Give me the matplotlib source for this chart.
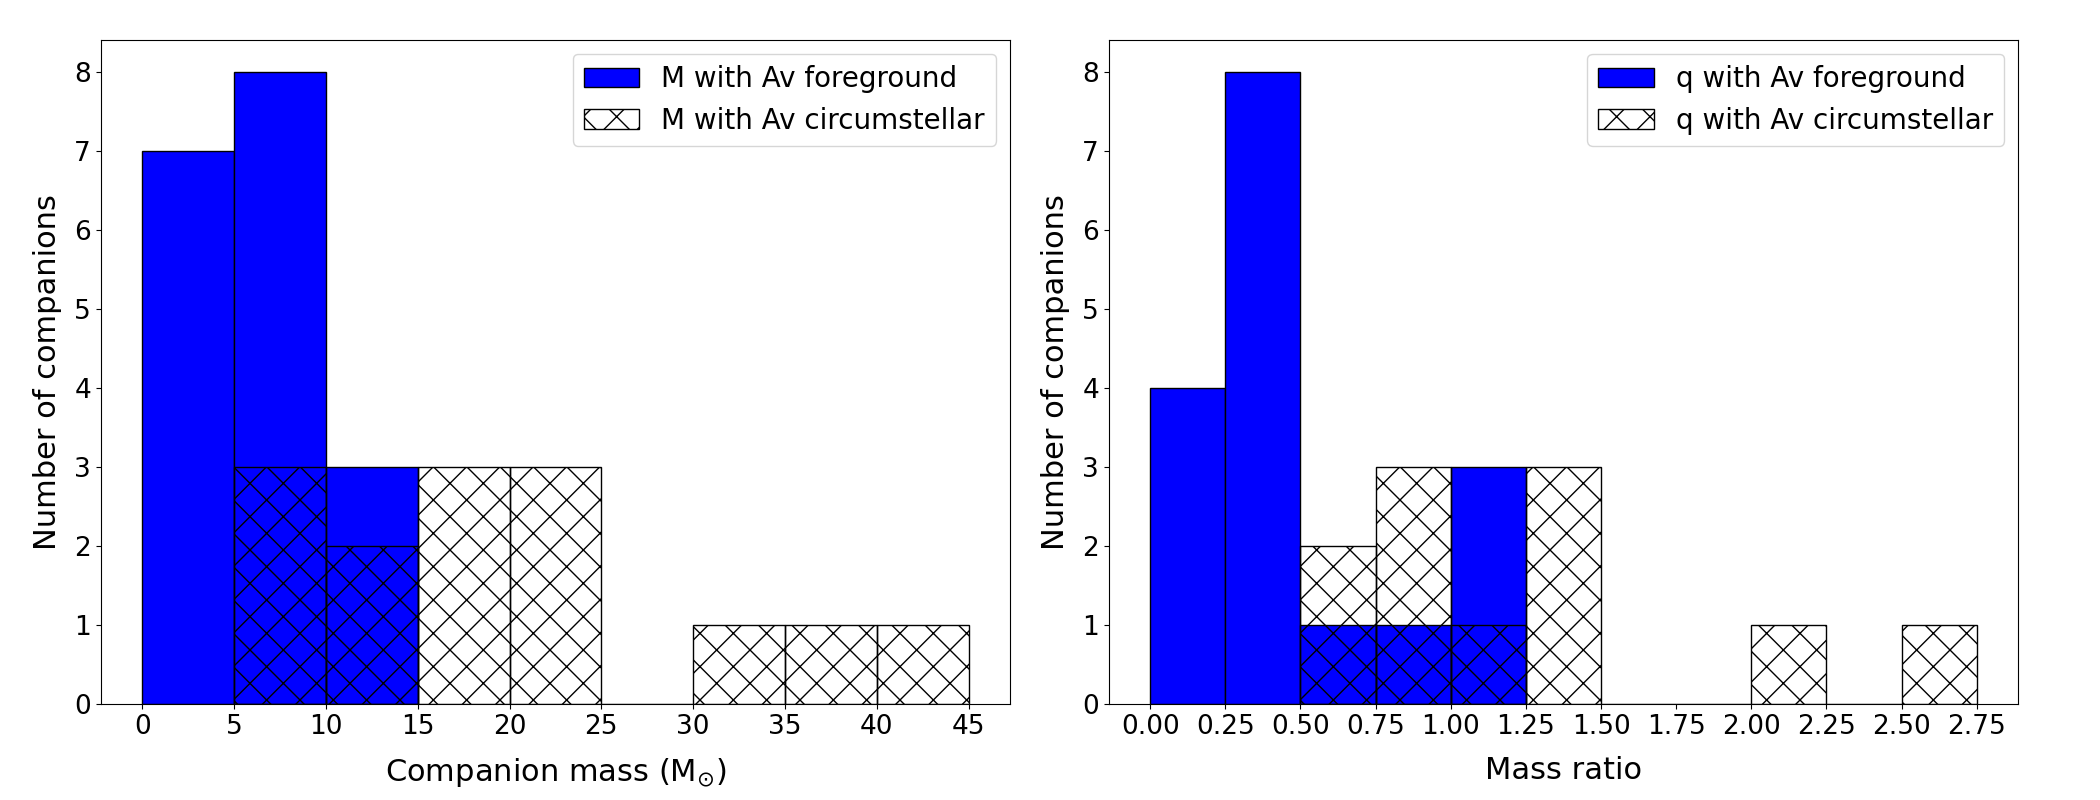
import matplotlib
matplotlib.use("Agg")
import matplotlib.pyplot as plt
import numpy as np

plt.rcParams['font.family'] = ['DejaVu Sans']

# companion mass histograms (M_sun)
mass_fg_edges = [0, 5, 10, 15]
mass_fg_counts = [7, 8, 3]
mass_cs_edges = [5, 10, 15, 20, 25, 30, 35, 40, 45]
mass_cs_counts = [3, 2, 3, 3, 0, 1, 1, 1]

# mass ratio histograms
q_fg_edges = [0.0, 0.25, 0.5, 0.75, 1.0, 1.25]
q_fg_counts = [4, 8, 1, 1, 3]
q_cs_edges = [0.5, 0.75, 1.0, 1.25, 1.5, 1.75, 2.0, 2.25, 2.5, 2.75]
q_cs_counts = [2, 3, 1, 3, 0, 0, 1, 0, 1]

fig = plt.figure(figsize=(21, 8), dpi=100)
ax1 = fig.add_axes([0.048, 0.12, 0.433, 0.83])
ax2 = fig.add_axes([0.528, 0.12, 0.433, 0.83])


def draw(ax, fe, fc, ce, cc, name, xlabel, xticks, fmt):
    ax.hist(fe[:-1], bins=fe, weights=fc, color='blue', edgecolor='black',
            label=name + ' with Av foreground')
    ax.hist(ce[:-1], bins=ce, weights=cc, fill=False, hatch='x',
            edgecolor='black', label=name + ' with Av circumstellar')
    ax.set_xticks(xticks)
    ax.set_xticklabels([fmt.format(t) for t in xticks])
    ax.set_xlabel(xlabel, fontsize=22, labelpad=12)
    ax.set_ylabel('Number of companions', fontsize=22, labelpad=9)
    ax.tick_params(labelsize=19)
    ax.legend(loc='upper right', fontsize=20)


draw(ax1, mass_fg_edges, mass_fg_counts, mass_cs_edges, mass_cs_counts,
     'M', r'Companion mass (M$_{\odot}$)', np.arange(0, 46, 5), '{:.0f}')
draw(ax2, q_fg_edges, q_fg_counts, q_cs_edges, q_cs_counts,
     'q', 'Mass ratio', np.arange(0, 2.76, 0.25), '{:.2f}')

fig.savefig('out.png', dpi=100)
